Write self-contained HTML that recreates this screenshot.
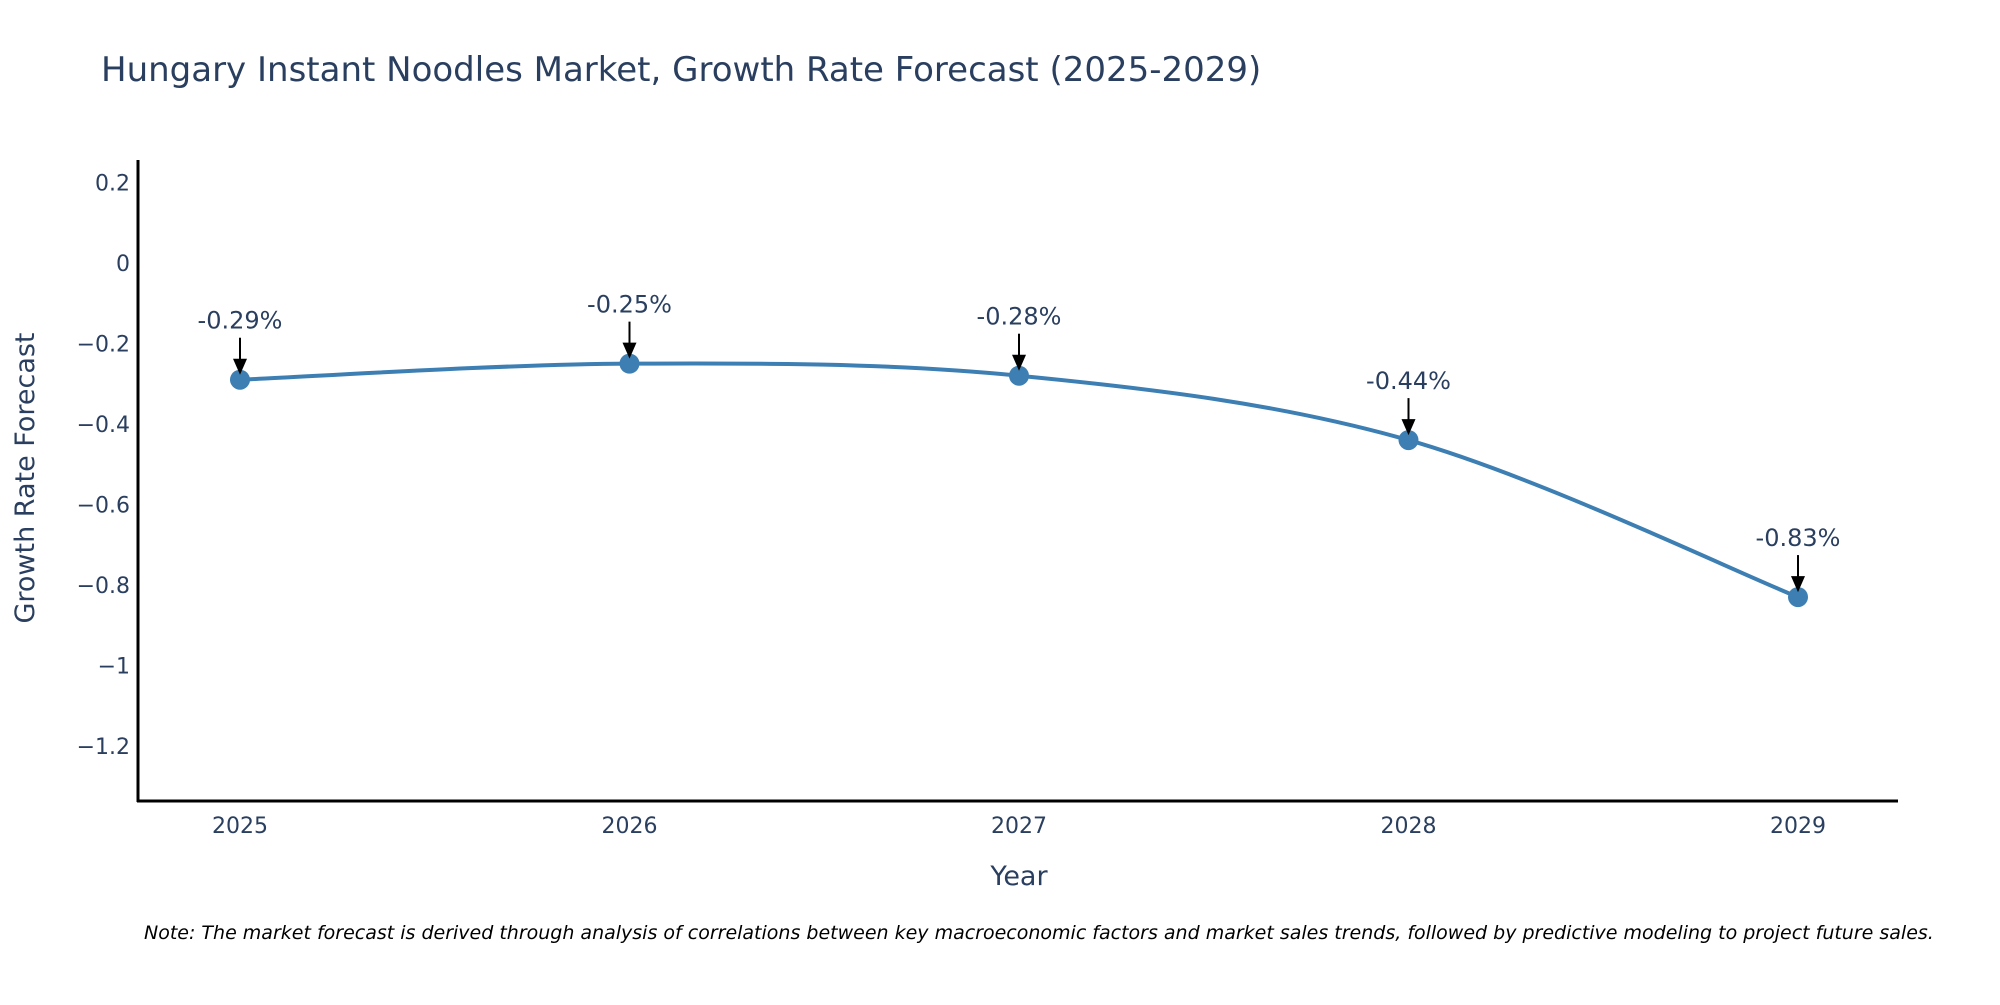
<!DOCTYPE html>
<html><head><meta charset="utf-8"><style>
html,body{margin:0;padding:0;background:#fff;}
svg text{font-family:"DejaVu Sans","Liberation Sans",sans-serif;fill:#2a3f5f;}
</style></head><body>
<svg id="chart" width="2000" height="1000" viewBox="0 0 2000 1000" xmlns="http://www.w3.org/2000/svg">
<text x="101" y="81" font-size="34">Hungary Instant Noodles Market, Growth Rate Forecast (2025-2029)</text>
<g id="yticks"></g>
<g id="xticks"></g>
<line x1="138" y1="160" x2="138" y2="802" stroke="#000" stroke-width="3"/>
<line x1="137" y1="801" x2="1898" y2="801" stroke="#000" stroke-width="3"/>
<text transform="translate(34,478) rotate(-90)" text-anchor="middle" font-size="27">Growth Rate Forecast</text>
<text x="1019" y="885" text-anchor="middle" font-size="27">Year</text>
<g id="series"></g>
<g id="annots"></g>
<text x="144" y="939" font-size="19" font-style="italic" style="fill:#000">Note: The market forecast is derived through analysis of correlations between key macroeconomic factors and market sales trends, followed by predictive modeling to project future sales.</text>
</svg>
<script>
const years = [2025, 2026, 2027, 2028, 2029];
const growth = [-0.29, -0.25, -0.28, -0.44, -0.83];
const labels = ["-0.29%", "-0.25%", "-0.28%", "-0.44%", "-0.83%"];
const yTickValues = [0.2, 0, -0.2, -0.4, -0.6, -0.8, -1, -1.2];
const yTickLabels = ["0.2", "0", "\u22120.2", "\u22120.4", "\u22120.6", "\u22120.8", "\u22121", "\u22121.2"];

const NS = "http://www.w3.org/2000/svg";
const xScale = v => 240 + (v - 2025) * 389.5;
const yScale = v => 263 - v * 402.5;
function mk(tag, attrs, parent){const e=document.createElementNS(NS,tag);for(const k in attrs)e.setAttribute(k,attrs[k]);parent.appendChild(e);return e;}

const yt=document.getElementById('yticks');
yTickValues.forEach((v,i)=>{
  const t=mk('text',{x:130,y:yScale(v)+8,'text-anchor':'end','font-size':22},yt);
  
  
  t.textContent=yTickLabels[i];
});
const xt=document.getElementById('xticks');
years.forEach(y=>{
  const t=mk('text',{x:xScale(y),y:833,'text-anchor':'middle','font-size':22},xt);
  
  
  t.textContent=String(y);
});

const pts=years.map((y,i)=>[xScale(y),yScale(growth[i])]);
let d='M'+pts[0][0]+','+pts[0][1];
for(let i=0;i<pts.length-1;i++){
  const p0=pts[Math.max(0,i-1)],p1=pts[i],p2=pts[i+1],p3=pts[Math.min(pts.length-1,i+2)];
  const s=1/6;
  const c1=[p1[0]+(p2[0]-p0[0])*s,p1[1]+(p2[1]-p0[1])*s];
  const c2=[p2[0]-(p3[0]-p1[0])*s,p2[1]-(p3[1]-p1[1])*s];
  d+=' C'+c1.join(',')+' '+c2.join(',')+' '+p2.join(',');
}
const sg=document.getElementById('series');
const path=mk('path',{d:d,fill:'none',stroke:'#3d7fb3','stroke-width':4},sg);


pts.forEach(p=>{
  const c=mk('circle',{cx:p[0],cy:p[1],r:10,fill:'#3d7fb3'},sg);
  
  
});
const an=document.getElementById('annots');
pts.forEach((p,i)=>{
  const t=mk('text',{x:p[0],y:p[1]-51,'text-anchor':'middle','font-size':24},an);
  
  
  t.textContent=labels[i];
  const l=mk('line',{x1:p[0],y1:p[1]-42,x2:p[0],y2:p[1]-20,stroke:'#000','stroke-width':2},an);
  
  
  const h=mk('polygon',{points:(p[0]-7)+','+(p[1]-21)+' '+(p[0]+7)+','+(p[1]-21)+' '+p[0]+','+(p[1]-5),fill:'#000'},an);
  
  
});
</script>
</body></html>
